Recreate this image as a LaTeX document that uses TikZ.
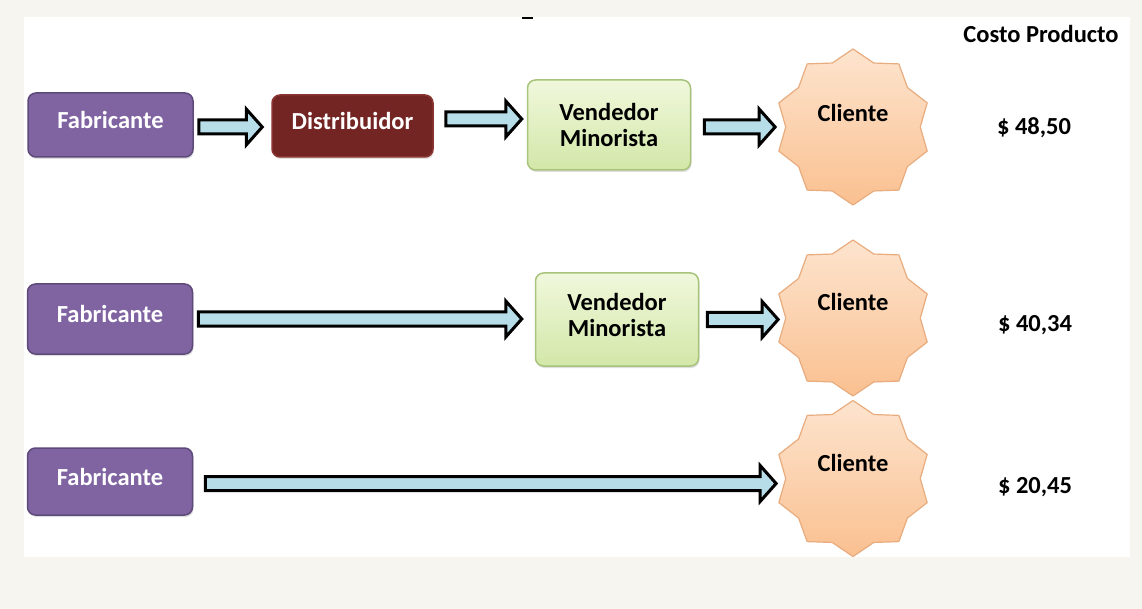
\documentclass[tikz,border=0pt]{standalone}
\usepackage{fontspec}
\setmainfont{Carlito}
\usetikzlibrary{shapes.geometric,shadows,calc}
\definecolor{fondo}{HTML}{F7F5F0}
\definecolor{morado}{HTML}{8064A2}
\definecolor{moradoB}{HTML}{5E4A7A}
\definecolor{granate}{HTML}{722523}
\definecolor{granateB}{HTML}{8A3532}
\definecolor{verdeA}{HTML}{F0F8DC}
\definecolor{verdeB}{HTML}{D3E7A8}
\definecolor{verdeC}{HTML}{A8C47C}
\definecolor{pielA}{HTML}{FDE4CE}
\definecolor{pielB}{HTML}{FAC090}
\definecolor{pielC}{HTML}{E8AC7E}
\definecolor{celeste}{HTML}{B7DDE8}
\begin{document}
\begin{tikzpicture}[x=1pt, y=-1pt, font=\bfseries\fontsize{24.5}{26}\selectfont, line join=round,
	caja/.style={rounded corners=8pt, line width=1.5pt, inner sep=0pt, text depth=10pt, align=center,
		drop shadow={opacity=.25, shadow xshift=1pt, shadow yshift=-2pt}},
	fab/.style={caja, fill=morado, draw=moradoB, text=white, minimum width=165pt},
	dist/.style={caja, fill=granate, draw=granateB, text=white, minimum width=161pt, minimum height=62pt},
	vend/.style={caja, top color=verdeA, bottom color=verdeB, draw=verdeC, minimum width=163pt},
	cliente/.style={star, star points=10, star point ratio=1.16, minimum size=156pt, inner sep=0pt,
		top color=pielA, bottom color=pielB, draw=pielC, line width=1.2pt},
	flecha/.style={draw=black, fill=celeste, line width=3pt, line join=miter,
		to path={let \p1=(\tikztostart), \p2=(\tikztotarget) in
			(\x1,\y1+7pt) -- (\x2-16pt,\y1+7pt) -- (\x2-16pt,\y1+18pt) -- (\x2,\y1)
			-- (\x2-16pt,\y1-18pt) -- (\x2-16pt,\y1-7pt) -- (\x1,\y1-7pt) -- cycle}}]
	% fondo
	\fill[fondo] (0,0) rectangle (1142,609);
	\fill[white] (24,17) rectangle (1130,557);
	\draw[line width=1.5pt] (522,18) -- (533,18);
	
	% fila 1
	\node[fab, minimum height=64pt] (f1) at (110.5,125) {Fabricante};
	\node[dist] (d1) at (352.5,126) {Distribuidor};
	\node[vend, minimum height=90pt, text depth=0pt] (v1) at (609,125) {Vendedor\\Minorista};
	\node[cliente] (c1) at (853,127) {};
	\node (t1) at ([yshift=14pt]c1.center) {Cliente};
	\draw[flecha] ([xshift=5pt,yshift=-2pt]f1.east) to ([xshift=-9pt,yshift=-2pt]d1.west);
	\draw[flecha] ([xshift=12pt,yshift=7pt]d1.east) to ([xshift=-5pt,yshift=7pt]v1.west);
	\draw[flecha] ([xshift=13pt,yshift=-2pt]v1.east) to ([xshift=-10pt,yshift=-1pt]c1.west);
	
	% fila 2
	\node[fab, minimum height=70pt] (f2) at (110,319) {Fabricante};
	\node[vend, minimum height=93pt] (v2) at (617,319.5) {Vendedor\\Minorista};
	\node[cliente] (c2) at (853,318) {};
	\node (t2) at ([yshift=16pt]c2.center) {Cliente};
	\draw[flecha] ([xshift=5pt]f2.east) to ([xshift=-13pt]v2.west);
	\draw[flecha] ([xshift=8pt]v2.east) to ([xshift=-7pt]c2.west);
	
	% fila 3
	\node[fab, minimum height=67pt] (f3) at (110,481.5) {Fabricante};
	\node[cliente] (c3) at (853,478.5) {};
	\node (t3) at ([yshift=16pt]c3.center) {Cliente};
	\draw[flecha] ([xshift=12pt,yshift=-2pt]f3.east) to ([xshift=-9pt]c3.west);
	
	% costos
	\node (costo) at (1041,34) {Costo Producto};
	\node (p1) at (1034,128) {\$ 48,50};
	\node (p2) at (1035,325) {\$ 40,34};
	\node (p3) at (1035,487) {\$ 20,45};
\end{tikzpicture}
\end{document}
